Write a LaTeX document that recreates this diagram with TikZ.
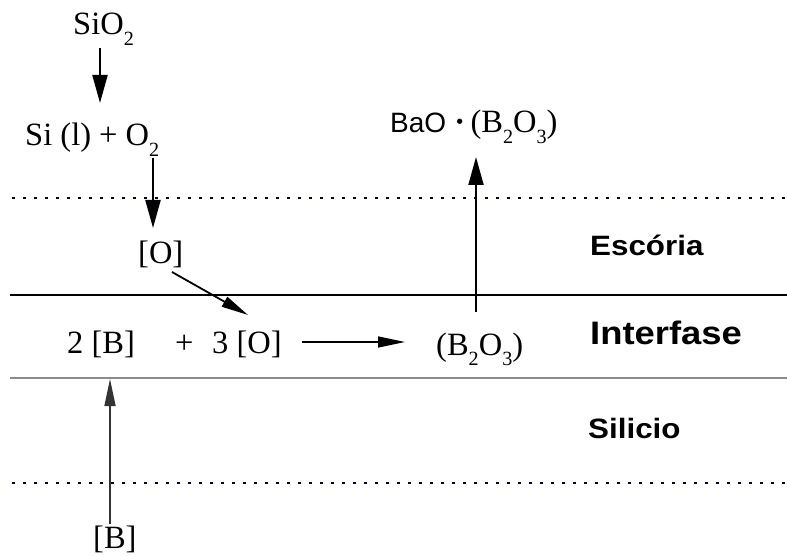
\documentclass[tikz,border=0pt]{standalone}
\usepackage{fontspec}
\setmainfont{Liberation Serif}
\newfontfamily\lblfont[FakeStretch=1.12]{Liberation Sans}
\newfontfamily\plainsans{Liberation Sans}
\usetikzlibrary{arrows.meta}
% lowered, reduced subscript digit
\newcommand\lowsub[1]{\raisebox{-0.32em}{\scalebox{0.62}{#1}}}
\begin{document}
\begin{tikzpicture}[x=1pt,y=-1pt,
  chem/.style={font=\fontsize{32.5}{32.5}\selectfont, inner sep=0pt, anchor=base west},
  phase/.style={font=\lblfont\bfseries\fontsize{28}{28}\selectfont, inner sep=0pt, anchor=base west},
  dotline/.style={draw=black!80!blue, line width=2pt, dash pattern=on 2.5pt off 8.5pt},
  arr/.style={draw, line width=2.2pt, -{Triangle[length=28pt,width=15pt]}},
  thinarr/.style={draw, line width=1.5pt, -{Triangle[length=27pt,width=11pt]}}
]
\useasboundingbox (0,0) rectangle (787,556);

% layer boundaries
\draw[dotline] (12,198) -- (787,198);
\draw[line width=1.2pt] (10,295) -- (787,295);
\draw[line width=2pt, black!45] (10,378) -- (787,378);
\draw[dotline] (12,483) -- (787,483);

% species
\node[chem] (sio2) at (73,35) {SiO\lowsub{2}};
\node[chem] (sil) at (25,146) {Si (l) + O\lowsub{2}};
\node[chem] (o) at (138,263) {[O]};
\node[chem] (b2) at (67,353) {2 [B]};
\node[chem] (plus) at (175,353) {+};
\node[chem] (o3) at (212,353) {3 [O]};
\node[chem] (b2o3) at (436,355) {(B\lowsub{2}O\lowsub{3})};
\node[chem] (bao) at (390,133) {{\plainsans\fontsize{28}{28}\selectfont BaO} \textbf{·}\,(B\lowsub{2}O\lowsub{3})};
\node[chem] (b) at (93,548) {[B]};

% phase names
\node[phase] (esc) at (590,255) {Escória};
\node[phase, font=\lblfont\bfseries\fontsize{32.5}{32.5}\selectfont] (int) at (590,344) {Interfase};
\node[phase] (sili) at (588,438) {Silicio};

% transport and reaction
\draw[arr] ([yshift=-13pt]sio2.base -| 100,0) -- (100,103);
\draw[arr] ([yshift=-12pt]sil.base -| 153,0) -- (153,228);
\draw[thinarr, line width=1.8pt] ([xshift=34pt,yshift=-9pt]o.base west) -- ([xshift=36pt,yshift=38pt]o3.base west);
\draw[thinarr] ([xshift=20pt,yshift=11pt]o3.base east) -- ([xshift=-31pt,yshift=13pt]b2o3.base west);
\draw[arr, line width=2pt] ([yshift=43pt]b2o3.base -| 476,0) -- ([yshift=-24pt]bao.base -| 476,0);
\draw[thinarr, black!80] ([yshift=24pt]b.base -| 110,0) -- (110,379);
\end{tikzpicture}
\end{document}
